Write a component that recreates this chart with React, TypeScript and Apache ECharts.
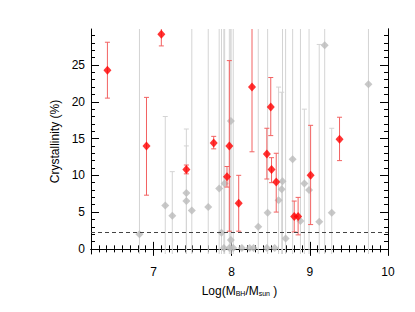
import React, { useEffect, useRef } from "react";
import * as echarts from "echarts";

// Red (detected) sources: x = log(M_BH/M_sun), y = crystallinity (%), lo/hi error limits
const redX = [6.41, 6.91, 7.10, 7.42, 7.77, 7.94, 7.97, 8.09, 8.26, 8.45, 8.50, 8.51, 8.57, 8.80, 8.85, 9.01, 9.38];
const redY = [24.3, 14.0, 29.2, 10.8, 14.4, 9.8, 14.0, 6.2, 22.0, 12.9, 19.3, 10.8, 9.1, 4.4, 4.4, 10.0, 14.9];
const redLo = [20.5, 7.3, 27.6, 10.2, 13.6, 8.4, 2.4, 2.4, 13.2, 9.5, 15.4, 9.0, 5.0, 2.3, 1.9, 3.3, 12.0];
const redHi = [28.1, 20.6, 30.8, 11.4, 15.3, 11.2, 25.6, 10.0, 30.8, 16.4, 23.3, 12.4, 13.0, 6.5, 7.0, 16.8, 17.9];

// Grey (uncertain) sources
const greyX = [6.82, 7.15, 7.24, 7.42, 7.42, 7.49, 7.70, 7.84, 7.87, 7.90, 7.91, 7.97, 7.99, 7.99, 8.02, 8.13, 8.23, 8.28, 8.34, 8.45, 8.46, 8.55, 8.60, 8.64, 8.65, 8.69, 8.78, 8.88, 8.93, 8.99, 9.12, 9.19, 9.28, 9.75];
const greyY = [2.0, 5.9, 4.5, 7.6, 6.5, 5.2, 5.7, 8.2, 2.2, 0.1, 8.9, 0.1, 1.2, 17.4, 0.1, 0.1, 0.1, 0.1, 3.0, 0.1, 4.9, 0.1, 6.6, 8.1, 9.2, 1.4, 12.2, 3.8, 8.9, 8.0, 3.7, 27.7, 4.9, 22.4];
const greyLo = [-40, -6.2, -1.5, -1.1, -1.0, -40, -40, -40, -40, -40, -40, -40, -40, -40, -40, 0.1, 0.1, 0.1, -40, 0.1, -40, 0.1, -8.8, -5.1, -40, -40, -40, -40, -1.2, -40, -20.4, -40, -6.6, -40];
const greyHi = [60, 18.0, 10.5, 16.3, 14.0, 60, 60, 60, 60, 60, 60, 60, 60, 60, 60, 0.1, 0.1, 0.1, 60, 0.1, 60, 0.1, 22.0, 21.3, 60, 60, 60, 60, 19.0, 60, 27.8, 60, 16.4, 60];

const threshold = 2.25;

const xMajor = [7, 8, 9, 10];
const yMajor = [0, 5, 10, 15, 20, 25];
const X_MIN = 6.2, X_MAX = 10;
const Y_MIN = -0.7, Y_MAX = 29.9;

const xMinor: number[] = [];
for (let i = 63; i <= 99; i++) if (i % 10 !== 0) xMinor.push(i / 10);
const yMinor: number[] = [];
for (let i = 0; i <= 29; i++) if (i % 5 !== 0) yMinor.push(i);

const FONT = "Liberation Sans, Arial, Helvetica, sans-serif";

const errRender = (color: string) => (params: any, api: any) => {
  const x = api.value(0), lo = api.value(1), hi = api.value(2);
  if (lo === hi) return null;
  const p1 = api.coord([x, lo]);
  const p2 = api.coord([x, hi]);
  const cw = 2.5;
  const st = { stroke: color, lineWidth: 1 };
  return {
    type: "group",
    children: [
      { type: "line", shape: { x1: p1[0], y1: p1[1], x2: p2[0], y2: p2[1] }, style: st },
      { type: "line", shape: { x1: p1[0] - cw, y1: p1[1], x2: p1[0] + cw, y2: p1[1] }, style: st },
      { type: "line", shape: { x1: p2[0] - cw, y1: p2[1], x2: p2[0] + cw, y2: p2[1] }, style: st },
    ],
  };
};

export default function App() {
  const ref = useRef<HTMLDivElement>(null);
  useEffect(() => {
    if (!ref.current) return;
    const chart = echarts.init(ref.current, null, { renderer: "svg" });
    const line = { show: true, lineStyle: { color: "#000", width: 1 } };
    const mkX = (pos: string, vals: number[], len: number, labels: boolean, name?: any) => ({
      type: "value", min: X_MIN, max: X_MAX, position: pos, gridIndex: 0,
      axisLine: labels || pos === "top" ? line : { show: false },
      axisTick: { show: true, inside: true, length: len, customValues: vals, lineStyle: { color: "#000", width: 1 } },
      axisLabel: labels ? { show: true, customValues: xMajor, margin: 12, fontSize: 12, color: "#000", fontFamily: FONT } : { show: false },
      splitLine: { show: false },
      ...(name || {}),
    });
    const mkY = (pos: string, vals: number[], len: number, labels: boolean, name?: any) => ({
      type: "value", min: Y_MIN, max: Y_MAX, position: pos, gridIndex: 0,
      axisLine: labels || pos === "right" ? line : { show: false },
      axisTick: { show: true, inside: true, length: len, customValues: vals, lineStyle: { color: "#000", width: 1 } },
      axisLabel: labels ? { show: true, customValues: yMajor, margin: 6, fontSize: 12, color: "#000", fontFamily: FONT } : { show: false },
      splitLine: { show: false },
      ...(name || {}),
    });
    chart.setOption({
      animation: false,
      backgroundColor: "#fff",
      grid: { left: 91, right: 27, top: 29, bottom: 58, containLabel: false },
      xAxis: [
        mkX("bottom", xMajor, 7, true, {
          name: "Log(M{s|BH}/M{s|sun} )",
          nameLocation: "middle",
          nameGap: 30,
          nameTextStyle: {
            fontSize: 12, color: "#000", fontFamily: FONT,
            rich: { s: { fontSize: 7, fontFamily: FONT, color: "#000", padding: [6, 0, 0, 0] } },
          },
        }),
        mkX("bottom", xMinor, 3.5, false),
        mkX("top", xMajor, 7, false),
        mkX("top", xMinor, 3.5, false),
      ],
      yAxis: [
        mkY("left", yMajor, 8, true, {
          name: "Crystallinity (%)",
          nameLocation: "middle",
          nameGap: 30,
          nameTextStyle: { fontSize: 12, color: "#000", fontFamily: FONT },
        }),
        mkY("left", yMinor, 4, false),
        mkY("right", yMajor, 8, false),
        mkY("right", yMinor, 4, false),
      ],
      series: [
        {
          type: "custom",
          xAxisIndex: 0, yAxisIndex: 0,
          clip: true,
          renderItem: errRender("#d4d4d4"),
          data: greyX.map((x, i) => [x, greyLo[i], greyHi[i]]),
          z: 1,
        },
        {
          type: "scatter",
          xAxisIndex: 0, yAxisIndex: 0,
          symbol: "diamond",
          symbolSize: 8,
          itemStyle: { color: "#bababa" },
          data: greyX.map((x, i) => [x, greyY[i]]),
          z: 2,
          markLine: {
            silent: true,
            symbol: "none",
            label: { show: false },
            lineStyle: { color: "#444", type: [4, 3], width: 1 },
            data: [{ yAxis: threshold }],
          },
        },
        {
          type: "custom",
          xAxisIndex: 0, yAxisIndex: 0,
          clip: true,
          renderItem: errRender("#f26262"),
          data: redX.map((x, i) => [x, redLo[i], redHi[i]]),
          z: 3,
        },
        {
          type: "scatter",
          xAxisIndex: 0, yAxisIndex: 0,
          symbol: "diamond",
          symbolSize: [8, 9],
          itemStyle: { color: "#ff0000" },
          data: redX.map((x, i) => [x, redY[i]]),
          z: 4,
        },
      ],
    });
    return () => chart.dispose();
  }, []);
  return <div ref={ref} style={{ position: "fixed", left: 0, top: 0, width: 415, height: 312 }} />;
}
